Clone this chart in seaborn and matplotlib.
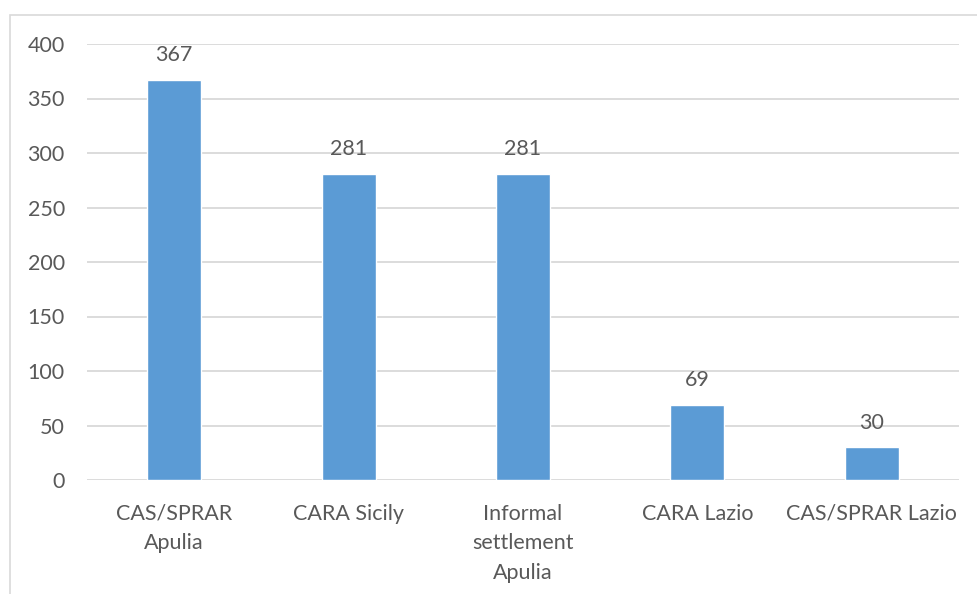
import matplotlib
matplotlib.use("Agg")
import matplotlib.pyplot as plt
from matplotlib.patches import Rectangle
import seaborn as sns
import pandas as pd

categories = ["CAS/SPRAR\nApulia", "CARA Sicily", "Informal\nsettlement\nApulia",
              "CARA Lazio", "CAS/SPRAR Lazio"]
values = [367, 281, 281, 69, 30]
y_ticks = [0, 50, 100, 150, 200, 250, 300, 350, 400]

sns.set_theme(style="white")
plt.rcParams["font.family"] = ["Lato", "DejaVu Sans"]

TEXT = "#595959"
BAR = "#5B9BD5"
GRID = "#D9D9D9"
FS = 15.5

df = pd.DataFrame({"site": categories, "count": values})

fig = plt.figure(figsize=(9.77, 5.94), dpi=100)
ax = fig.add_axes([87 / 977, 1 - 480 / 594, (959 - 87) / 977, (480 - 44) / 594])

sns.barplot(data=df, x="site", y="count", color=BAR, width=0.31,
            saturation=1, ax=ax, zorder=3)

ax.set_ylim(0, 400)
ax.set_xlim(-0.5, len(categories) - 0.5)
ax.set_yticks(y_ticks)
ax.yaxis.grid(True, color=GRID, linewidth=1.3)
ax.set_axisbelow(True)
for s in ax.spines.values():
    s.set_visible(False)
ax.set_xlabel("")
ax.set_ylabel("")
ax.tick_params(axis="y", length=0, pad=16, labelsize=FS, labelcolor=TEXT)
ax.tick_params(axis="x", length=0, pad=17, labelsize=FS, labelcolor=TEXT)
for lbl in ax.get_xticklabels():
    lbl.set_linespacing(1.6)

for i, v in enumerate(values):
    ax.annotate(str(v), xy=(i, v), xytext=(0, 13.5), textcoords="offset points",
                ha="center", va="baseline", fontsize=FS, color=TEXT)

# chart area frame
fig.patches.append(Rectangle((10 / 977, -0.1), 1.2, 1 - 15 / 594 + 0.1,
                             transform=fig.transFigure, fill=False,
                             edgecolor=GRID, linewidth=1.2))

fig.savefig("out.png", dpi=100)
